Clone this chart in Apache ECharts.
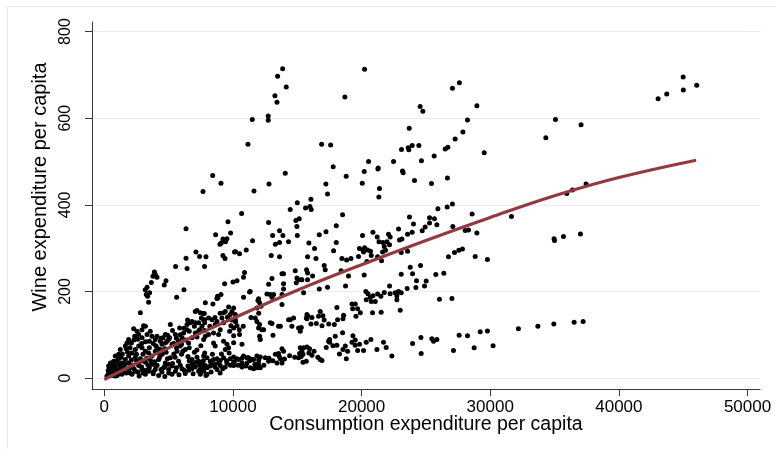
<!DOCTYPE html>
<html>
<head>
<meta charset="utf-8">
<script src="https://cdn.jsdelivr.net/npm/echarts@6/dist/echarts.min.js"></script>
<style>html,body{margin:0;padding:0;background:#fff;}#c{width:776px;height:449px;}</style>
</head>
<body>
<div id="c"></div>
<script>
// Axis ticks
const xTicks = [0, 10000, 20000, 30000, 40000, 50000];
const yTicks = [0, 200, 400, 600, 800];
const xTitle = 'Consumption expenditure per capita';
const yTitle = 'Wine expenditure per capita';

// Scatter observations: [consumption expenditure per capita, wine expenditure per capita]
const highPoints = [
[7670,431],[8420,468],[9065,450],[11165,540],[11500,597],[11630,432],[10670,380],[12740,605],[12740,595],[13260,652],[13420,637],[13470,697],[13860,714],[14140,672],[12800,448],[14065,473],[15000,405],[14450,389],[15150,368],[15640,393],[15980,396],[16080,389],[16060,413],[16890,540],[17590,538],[17790,488],[17220,448],[17350,425],[18520,377],[18700,649],[18800,466],[20230,713],[20050,450],[20200,477],[20540,500],[21270,483],[21290,485],[21390,438],[21340,418],[22480,500],[23100,528],[23620,532],[23670,527],[23930,537],[24450,537],[23700,577],[23180,478],[23230,474],[24110,456],[23720,372],[24550,627],[24650,502],
[24760,616],[25640,513],[25430,449],[26500,529],[26700,533],[27060,669],[27600,682],[27270,552],[27870,568],[28230,596],[28960,629],[26670,462],[29530,520],[25930,391],[26650,395],[27060,402],[28590,379],[25280,370],[25660,368],[31650,373],[34320,555],[35070,597],[37060,585],[35950,426],[36390,434],[37450,448],[43050,645],[43720,656],[45000,695],[45010,665],[46050,676]
];
const midRightPoints = [
[25280,358],[25850,354],[24940,349],[24710,340],[24030,356],[23930,337],[23570,332],[23130,321],[23080,290],[23570,293],[27090,350],[28050,341],[28310,342],[28960,335],[26750,280],[27220,290],[27560,295],[27840,298],[28830,281],[29780,274],[23780,256],[24580,260],[23080,240],[23960,241],[25770,239],[26390,242],[24270,225],[25020,224],[24220,209],[24890,213],[23540,207],[23080,197],[26050,182],[27020,184],[23000,157],[34960,322],[35000,318],[35690,327],[37010,333],[32190,114],[33700,120],[34940,125],[36520,129],[37220,131],[29220,107],[29780,109],[27580,99],[28230,98],[25460,91],[25850,89],[25590,85],[24610,94],[23960,80],[24630,57],[27140,64],[28750,70],[30220,75]
];
const midPoints = [
[18030,352],[17230,338],[16710,331],[20070,329],[20880,337],[21210,326],[22090,332],[22220,326],[22870,344],[22940,319],[15900,312],[16340,299],[18030,313],[17820,294],[15800,280],[16450,276],[18470,276],[18830,273],[19170,276],[19830,299],[20100,296],[20230,301],[20460,296],[20690,293],[20150,291],[20750,283],[19760,281],[20410,269],[21350,315],[21660,313],[21970,315],[22170,308],[21760,304],[21630,291],[21860,295],[21240,280],[21550,271],[15720,250],[15800,227],[15310,227],[16190,236],[17090,260],[17170,250],[18410,248],[18980,236],[20200,238],[18750,213],[16710,206],[17350,210],[15490,197],[20330,200],[20490,195],[20670,187],[20880,190],[21240,194],[21500,189],[21760,198],[22170,213],[22220,195],[22610,197],[22870,200],[22740,190],[22740,181],[19250,171],[19510,171],[19300,160],[19690,160],[19900,151],[19560,143],[18080,163],[18600,145],[18550,137],[18130,135],[17880,124],[17440,125],[16920,121],[16480,126],[16060,125],[15750,137],[15750,147],[16140,140],[16650,143],[16780,154],[16990,144],[17090,134],[15230,108],[21520,152],[20850,151],[20360,181],[20750,177],[21060,177],[15490,70],[15950,68],[15440,55],[16140,53],[15440,37],[16780,43],[16920,41],[17250,71],[17510,89],[17510,83],[17770,75],[18080,76],[18280,56],[18550,66],[18730,74],[18910,62],[18810,45],[18520,105],[19320,98],[19500,88],[19250,83],[19500,76],[19840,78],[19690,64],[20150,64],[20360,83],[20720,89],[21700,83],[21910,71],[22350,51],[21190,66],[17430,85],[17950,97]
];
const upperLeftPoints = [
[9610,361],[6350,345],[8650,331],[9810,335],[9220,321],[9530,322],[9090,312],[9420,315],[8990,309],[11520,317],[12770,359],[14890,364],[13620,340],[13080,329],[13880,329],[13290,309],[13620,313],[14320,315],[15000,329],[14970,350],[7120,291],[7400,281],[7900,280],[6350,277],[6430,253],[7790,258],[5540,258],[9220,283],[9380,276],[10120,291],[10200,292],[10510,287],[11030,296],[3890,245],[4090,233],[3780,235],[3650,221],[4790,225],[4660,215],[6190,204],[5620,187],[9350,218],[10000,222],[10310,225],[10820,233],[10900,244],[9070,193],[8830,185],[11290,199],[10820,187],[12770,217],[13030,230],[12970,283],[13620,280],[12640,194],[12900,193],[13930,241],[14840,248],[14920,220],[15100,227],[13930,206],[11990,183],
[3320,210],[3180,204],[3260,193],[3360,189],[3520,197],[3440,175],[3960,239]
];
const centerPoints = [
[2800,151],[2280,114],[3050,121],[5130,124],[4920,99],[4560,93],[5070,93],[4740,81],[6470,134],[5850,116],[7200,156],[7790,135],[7070,128],[6430,112],[7330,108],[7850,174],[8440,171],[8750,184],[9400,154],[9660,164],[9790,147],[10050,162],[9580,141],[9910,134],[9270,128],[10180,135],[10310,121],[10490,112],[9740,108],[10050,98],[11340,200],[11940,179],[11860,162],[11730,139],[10700,78],[10050,82],[11990,116],[12380,112],[12070,97],[12120,89],[13030,187],[13810,170],[12900,128],[13110,99],[13540,120],[14320,135],[14710,139],[15310,117],
[7460,151],[7770,149],[8100,139],[7720,134],[8370,135],[8760,131],[8620,124],[9140,139],[9270,151],[9920,154],[10180,147],[9840,121],[10050,116],[10510,101],[9010,112],[8880,101],[8490,104],[8100,101],[7850,97],[7720,89],[8490,81],[8620,74],[9270,85],[9530,78],[9660,70],[9400,66],[11860,131],[12070,124],[12250,112],[13030,126],[13680,120],[14450,135],[14580,120],[15100,116],[15700,139],[15800,144],[13810,241],[14970,231],[15360,227],[15800,243],[13930,218],[13160,193],[8800,189],[12070,174],[12180,166],[13810,193],
[8200,120],[8600,140],[9000,150],[9600,140],[10200,130],[10800,120],[11400,140],[12000,150]
];
const lowBandPoints = [
[11090,47],[11600,43],[11860,51],[12510,47],[13290,55],[13420,35],[13810,35],[13930,62],[15180,57],[15230,70],[10700,35],[11860,24],[12120,24],[10310,45],[10050,37],
[7720,51],[7980,47],[7590,35],[7850,29],[8240,39],[8490,43],[8760,45],[9010,41],[9270,47],[9530,35],[9790,45],[10050,49],[10430,43],[10820,51],[11210,47],[11470,43],[11730,24],[11990,26],[12120,49],[12770,39],[13540,57],[13680,45],[13810,68],[15360,62],[15100,47],[15700,39],[15750,72],[7460,20],[7720,16],[8240,28],[8620,32],[9010,29],[9400,26],[10050,29],[10700,26],[11090,35],[11340,24],[11600,22],[11990,34],[7980,9],[7460,9],[8760,20],
[2000,12],[2300,22],[2600,14],[2900,26],[3200,18],[3500,24],[3800,14],[4100,30],[4400,20],[4700,27],[5000,12],[5300,34],[5600,24],[5900,30],[6200,18],[6500,28],[6800,22],[7100,36],[7400,30],[7700,40],[8000,24],[8300,34],[8600,26],[8900,36],[9200,22],[9500,40],[9800,30],[10100,38],[10400,30],[10700,46],[11000,28],[11300,40],[11700,32],[12000,42],[12400,30],[12800,46],[13100,40],[13600,50],[14000,44],[14400,52],[14800,48],[15300,50],[15900,58],[16300,62],[16600,48],
[1000,6],[1300,20],[1700,12],[2100,42],[2700,36],[3300,46],[3900,38],[4300,48],[4900,45],[5400,56],[6100,62],[6600,40],[7200,48],[7800,58],[8400,55],[9100,56],[9700,58]
];
const originPoints = [
[7070,154],[7670,149],[3190,120],[2930,112],[2540,108],[2360,97],[1890,89],[1760,81],[2100,81],[1630,74],[1240,66],[1110,55],[850,51],[720,39],[470,35],[330,28],[2670,101],[2930,93],[3320,101],[3570,108],[3700,97],[3960,89],[4090,97],[4350,85],[4480,78],[4740,101],[4870,85],[5260,78],[5520,101],[5770,85],[5900,74],[6040,93],[6160,104],[6430,124],[6680,128],[6810,131],[7330,128],[7540,139],[7590,120],[7070,104],[6810,93],[6550,81],[6290,66],[5650,62],[5130,47],[4350,66],[3960,62],[3700,51],[3440,58],[3190,62],[2930,70],[2670,74],[2410,66],[2150,58],[1890,51],[1630,43],[1370,35],[1110,32],[850,24],[600,16],[330,12],
[1890,20],[2410,16],[2930,20],[3440,16],[3960,20],[4480,14],[5000,20],[5520,16],[6040,22],[6550,18],[7070,26],[7590,29],[2150,9],[3190,9],[4220,6],[5260,9],[6290,11],[7330,16],[1370,9],[850,5],[2670,29],[3700,32],[4740,35],[5770,39],[6810,43],[3190,37],[4220,43],[5260,28],[6810,32],[7330,39],[7720,20],
[200,5],[400,8],[600,6],[300,18],[500,22],[800,12],[1000,18],[1200,10],[1500,25],[1000,40],[700,30],[1300,48],[1800,60],[1500,14],[2500,40],[2200,30],[2800,45],[3400,30],[3000,12],[4000,28],[4600,24],[5000,32],[5500,48],[6000,55],[6500,50],[7000,60],[4500,55],[5600,70],[6300,88],[7500,75],[7200,65],[4000,75],[3500,85],[2400,48],[1900,35],[3000,40],[6900,10],[5800,8],[4700,4],[3800,10],[2700,5],[7900,6],[8300,14],[9000,12],
[500,12],[800,30],[1100,44],[1400,56],[1700,68],[2000,70],[2300,88],[2600,90],[2900,80],[3200,84],[3500,70],[3800,80],[4100,70],[4400,92],[4700,68],[5000,90],[5300,110],[5600,92],[5900,100],[6200,115],[6600,108],[7000,120],[7400,112],[7800,128],[1200,28],[1600,32],[2000,24],[2500,55],[3000,55],[3600,40],[4200,58],[4800,60],[5400,80],[6000,78],[6600,70],[7200,95],[7800,110]
];

// Fitted curve read along its path
const fitX = [0, 2000, 5000, 10000, 15000, 20000, 25000, 30000, 35000, 40000, 46000];
const fitY = [-3, 27, 70, 138, 203, 262, 318, 371, 421, 463, 503];

const scatterData = [].concat(highPoints, midRightPoints, midPoints, upperLeftPoints, centerPoints, lowBandPoints, originPoints);
const fitData = fitX.map((x, i) => [x, fitY[i]]);

const chart = echarts.init(document.getElementById('c'), null, {renderer: 'canvas'});
const FONT = 'Liberation Sans, Arial, Helvetica, sans-serif';
const axisColor = '#3a3a3a';
chart.setOption({
  animation: false,
  backgroundColor: '#ffffff',
  graphic: [
    {
      type: 'rect', z: -10, silent: true,
      shape: {x: 7.5, y: 6.5, width: 820, height: 520},
      style: {fill: 'none', stroke: '#e3e9ed', lineWidth: 1}
    },
    {
      type: 'text', silent: true, x: 426, y: 425,
      style: {text: xTitle, font: '19.5px ' + FONT, fill: '#000', align: 'center', verticalAlign: 'middle'}
    },
    {
      type: 'text', silent: true, x: 40, y: 187, rotation: Math.PI / 2,
      style: {text: yTitle, font: '20px ' + FONT, fill: '#000', align: 'center', verticalAlign: 'middle'}
    }
  ],
  grid: {left: 92, right: 16, top: 22, bottom: 60, containLabel: false},
  xAxis: {
    type: 'value', min: -960, max: 50970,
    axisLine: {show: true, onZero: false, lineStyle: {color: axisColor, width: 1}},
    axisTick: {show: true, customValues: xTicks, length: 7, lineStyle: {color: axisColor, width: 1}},
    axisLabel: {customValues: xTicks, fontSize: 17, color: '#000', margin: 10, fontFamily: FONT,
      formatter: v => String(v)},
    splitLine: {show: false}
  },
  yAxis: {
    type: 'value', min: -25, max: 822,
    axisLine: {show: true, onZero: false, lineStyle: {color: axisColor, width: 1}},
    axisTick: {show: true, customValues: yTicks, length: 7, lineStyle: {color: axisColor, width: 1}},
    axisLabel: {customValues: yTicks, rotate: 90, fontSize: 16, color: '#000', margin: 18, fontFamily: FONT,
      formatter: v => String(v)},
    splitLine: {show: false}
  },
  series: [
    {
      type: 'line', data: [], z: 0, silent: true,
      markLine: {
        z: 0, silent: true, symbol: 'none', label: {show: false},
        lineStyle: {color: '#e6eef0', type: 'solid', width: 1},
        data: yTicks.map(v => ({yAxis: v}))
      }
    },
    {
      type: 'scatter', data: scatterData, symbol: 'circle', symbolSize: 5,
      itemStyle: {color: '#000', opacity: 1}, silent: true, z: 3
    },
    {
      type: 'line', data: fitData, smooth: 0.4, showSymbol: false, symbol: 'none',
      lineStyle: {color: '#923a40', width: 3.2}, silent: true, z: 4
    }
  ]
});
</script>
</body>
</html>
